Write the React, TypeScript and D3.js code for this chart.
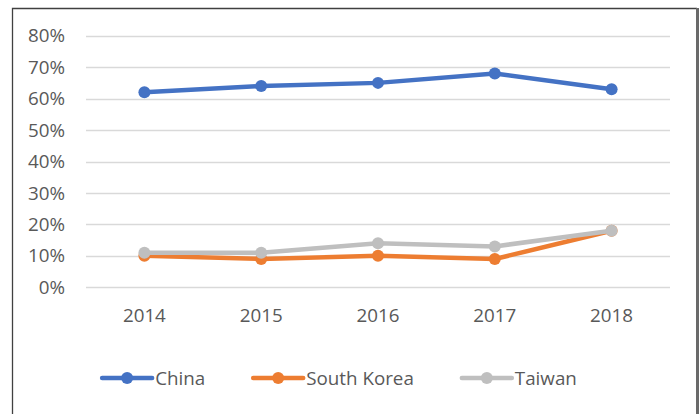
import React, { useEffect, useRef } from "react";
import * as d3 from "d3";

const years = ["2014", "2015", "2016", "2017", "2018"];
const china = [0.62, 0.64, 0.65, 0.68, 0.63];
const southKorea = [0.10, 0.09, 0.10, 0.09, 0.18];
const taiwan = [0.11, 0.11, 0.14, 0.13, 0.18];
const yTicks = [0, 0.1, 0.2, 0.3, 0.4, 0.5, 0.6, 0.7, 0.8];
const seriesNames = ["China", "South Korea", "Taiwan"];
const seriesColors = ["#4472C4", "#ED7D31", "#BFBFBF"];

const W = 700;
const H = 414;
const FONT = "'Open Sans', sans-serif";
const FS = 18.8;
const TEXT = "#595959";

export default function App() {
  const ref = useRef<SVGSVGElement>(null);

  useEffect(() => {
    const svg = d3.select(ref.current);
    svg.selectAll("*").remove();

    // frame
    svg.append("path")
      .attr("d", `M12.5,${H} V8.5 H697`)
      .attr("fill", "none")
      .attr("stroke", "#404040")
      .attr("stroke-width", 1.3);
    svg.append("line")
      .attr("x1", 697.5).attr("x2", 697.5).attr("y1", 8).attr("y2", H)
      .attr("stroke", "#6a6a6a").attr("stroke-width", 3);

    const x = d3.scaleBand<string>().domain(years).range([86, 670]);
    const y = d3.scaleLinear().domain([0, 0.8]).range([287.3, 35.7]);

    // gridlines
    svg.append("g").selectAll("line").data(yTicks).join("line")
      .attr("x1", 86).attr("x2", 670)
      .attr("y1", (d) => Math.round(y(d)) + 0.5)
      .attr("y2", (d) => Math.round(y(d)) + 0.5)
      .attr("stroke", "#D9D9D9").attr("stroke-width", 1.3);

    // y labels
    svg.append("g").selectAll("text").data(yTicks).join("text")
      .attr("x", 65).attr("y", (d) => y(d))
      .attr("dy", "0.35em")
      .attr("text-anchor", "end")
      .attr("font-family", FONT).attr("font-size", FS).attr("fill", TEXT)
      .text((d) => d3.format(".0%")(d));

    // x labels
    svg.append("g").selectAll("text").data(years).join("text")
      .attr("x", (d) => (x(d) as number) + x.bandwidth() / 2)
      .attr("y", 315).attr("dy", "0.35em")
      .attr("text-anchor", "middle")
      .attr("font-family", FONT).attr("font-size", FS).attr("fill", TEXT)
      .text((d) => d);

    const allSeries = [china, southKorea, taiwan];
    const line = d3.line<number>()
      .x((_, i) => (x(years[i]) as number) + x.bandwidth() / 2)
      .y((d) => y(d));

    allSeries.forEach((vals, si) => {
      const g = svg.append("g");
      g.append("path").attr("d", line(vals) as string)
        .attr("fill", "none").attr("stroke", seriesColors[si])
        .attr("stroke-width", 4.5).attr("stroke-linejoin", "round").attr("stroke-linecap", "round");
      g.selectAll("circle").data(vals).join("circle")
        .attr("cx", (_, i) => (x(years[i]) as number) + x.bandwidth() / 2)
        .attr("cy", (d) => y(d))
        .attr("r", 6)
        .attr("fill", seriesColors[si]);
    });

    // legend
    const legend = svg.append("g");
    const ly = 378;
    const lineLen = 50;
    const textGap = 3;
    const itemGap = 48;
    const items = seriesNames.map((name, i) => {
      const g = legend.append("g");
      g.append("line").attr("x1", 0).attr("x2", lineLen).attr("y1", ly).attr("y2", ly)
        .attr("stroke", seriesColors[i]).attr("stroke-width", 4.5).attr("stroke-linecap", "round");
      g.append("circle").attr("cx", lineLen / 2).attr("cy", ly).attr("r", 6).attr("fill", seriesColors[i]);
      const t = g.append("text").attr("x", lineLen + textGap).attr("y", ly).attr("dy", "0.35em")
        .attr("font-family", FONT).attr("font-size", FS).attr("fill", TEXT).text(name);
      const w = lineLen + textGap + (t.node() as SVGTextElement).getComputedTextLength();
      return { g, w };
    });
    const total = d3.sum(items, (d) => d.w) + itemGap * (items.length - 1);
    let cx = 339.5 - total / 2;
    items.forEach((it) => {
      it.g.attr("transform", `translate(${cx},0)`);
      cx += it.w + itemGap;
    });
  }, []);

  return (
    <svg
      ref={ref}
      width={W}
      height={H}
      style={{ position: "absolute", left: 0, top: 0, background: "#fff" }}
    />
  );
}
